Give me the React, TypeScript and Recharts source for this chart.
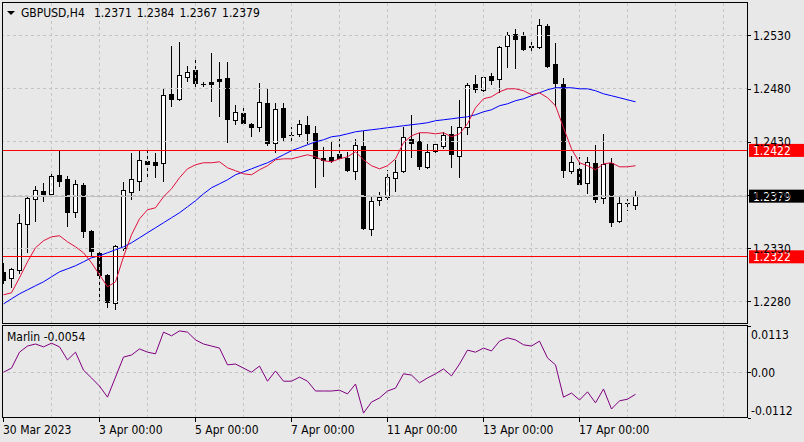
import React from 'react';
import { ComposedChart, Bar, Line, XAxis, YAxis, ReferenceLine } from 'recharts';

const FONT = "'DejaVu Sans Condensed', 'DejaVu Sans', sans-serif";
const BG = '#e8e8e8';

// H4 candles, 30 Mar 2023 00:00 .. 18 Apr 2023 04:00
const opens = [
  1.23079, 1.23023, 1.23098, 1.2353, 1.23765, 1.23841, 1.23812, 1.23991, 1.23953, 1.23643,
  1.23897, 1.23465, 1.23258, 1.23051, 1.22788, 1.23305, 1.23831, 1.23935, 1.24123, 1.24113,
  1.24104, 1.24752, 1.24705, 1.24912, 1.24978, 1.24846, 1.24865, 1.24893, 1.24903, 1.24505,
  1.24571, 1.2447, 1.24442, 1.24668, 1.24292, 1.24621, 1.24367, 1.24376, 1.24461, 1.24386,
  1.24151, 1.2416, 1.24188, 1.24151, 1.24029, 1.24264, 1.23483, 1.23756, 1.23784, 1.23963,
  1.24029, 1.24329, 1.24311, 1.24066, 1.24217, 1.24264, 1.24376, 1.2417, 1.24442, 1.24846,
  1.2479, 1.24922, 1.24893, 1.25204, 1.25316, 1.25298, 1.25199, 1.25194, 1.25392, 1.25034,
  1.24846, 1.24029, 1.24047, 1.23916, 1.24104, 1.23775, 1.24104, 1.23559, 1.2373, 1.2371,
];
const highs = [
  1.23164, 1.23117, 1.23624, 1.23794, 1.23888, 1.23916, 1.2401, 1.24217, 1.23982, 1.23944,
  1.23916, 1.23474, 1.23295, 1.2306, 1.23333, 1.23925, 1.24198, 1.24226, 1.24245, 1.24198,
  1.24799, 1.25204, 1.25241, 1.25016, 1.251, 1.24865, 1.25138, 1.25053, 1.25053, 1.24649,
  1.24618, 1.2448, 1.24856, 1.24809, 1.24668, 1.24668, 1.24442, 1.24508, 1.24546, 1.24452,
  1.24254, 1.24301, 1.24329, 1.24207, 1.24329, 1.24405, 1.23784, 1.23831, 1.24038, 1.24132,
  1.24442, 1.24555, 1.24386, 1.24282, 1.24301, 1.24395, 1.24452, 1.24696, 1.24856, 1.24931,
  1.24931, 1.2495, 1.25204, 1.25335, 1.25363, 1.25335, 1.25269, 1.25457, 1.25407, 1.25232,
  1.24903, 1.2417, 1.2416, 1.2416, 1.24273, 1.24376, 1.24151, 1.23784, 1.23765, 1.2384,
];
const lows = [
  1.22976, 1.22938, 1.2307, 1.23267, 1.23559, 1.23747, 1.23803, 1.23888, 1.23512, 1.23596,
  1.23408, 1.23239, 1.22807, 1.2275, 1.22731, 1.23286, 1.23765, 1.2385, 1.23972, 1.23972,
  1.23935, 1.2464, 1.24696, 1.24875, 1.24818, 1.24828, 1.24687, 1.24546, 1.24301, 1.24468,
  1.24461, 1.24358, 1.24405, 1.24273, 1.24207, 1.2432, 1.2432, 1.24358, 1.24292, 1.23878,
  1.23982, 1.24113, 1.24132, 1.24029, 1.23953, 1.23483, 1.23427, 1.23709, 1.23765, 1.23841,
  1.24019, 1.2416, 1.24047, 1.24057, 1.24198, 1.24245, 1.24066, 1.23972, 1.24376, 1.24771,
  1.24781, 1.24846, 1.24771, 1.25006, 1.24997, 1.25166, 1.25166, 1.25185, 1.25006, 1.2464,
  1.23972, 1.2401, 1.23897, 1.23822, 1.23737, 1.23728, 1.23512, 1.23549, 1.23662, 1.2367,
];
const closes = [
  1.23004, 1.23107, 1.2354, 1.23775, 1.2385, 1.23812, 1.23982, 1.23935, 1.23643, 1.23906,
  1.23465, 1.23277, 1.23051, 1.22797, 1.23324, 1.2385, 1.23953, 1.24132, 1.24094, 1.24085,
  1.24743, 1.24705, 1.24931, 1.24959, 1.24856, 1.24841, 1.24846, 1.24875, 1.24517, 1.2458,
  1.24473, 1.24442, 1.24677, 1.24292, 1.24611, 1.24348, 1.24362, 1.2447, 1.24386, 1.24151,
  1.24132, 1.24132, 1.24151, 1.24038, 1.24273, 1.23493, 1.23747, 1.23784, 1.23972, 1.24019,
  1.24348, 1.24292, 1.24076, 1.24207, 1.24282, 1.24367, 1.24188, 1.24442, 1.24837, 1.24799,
  1.24912, 1.24884, 1.25194, 1.25307, 1.25269, 1.25175, 1.25194, 1.25401, 1.25016, 1.24856,
  1.24038, 1.24113, 1.23906, 1.24113, 1.23765, 1.24094, 1.23549, 1.23728, 1.23725, 1.2379,
];
// red moving average
const maFast = [
  1.22863, 1.22882, 1.23023, 1.23173, 1.23305, 1.23371, 1.23408, 1.23418, 1.23361, 1.23314,
  1.23258, 1.23164, 1.23051, 1.22938, 1.22985, 1.2322, 1.23427, 1.23577, 1.23662, 1.23681,
  1.23784, 1.23859, 1.23963, 1.24047, 1.24085, 1.24104, 1.24104, 1.24113, 1.24057, 1.24029,
  1.24, 1.23991, 1.24038, 1.24076, 1.24132, 1.24141, 1.24141, 1.2416, 1.24179, 1.2416,
  1.24123, 1.24113, 1.24141, 1.2416, 1.24207, 1.24132, 1.24076, 1.24047, 1.24076, 1.24141,
  1.24292, 1.24358, 1.24386, 1.24386, 1.24376, 1.24386, 1.24348, 1.24376, 1.2447, 1.24621,
  1.24705, 1.24724, 1.24771, 1.24799, 1.24799, 1.24781, 1.24743, 1.24762, 1.24715, 1.2464,
  1.24433, 1.24235, 1.24104, 1.24076, 1.24038, 1.24094, 1.24104, 1.24066, 1.24066, 1.24076,
];
// blue moving average
const maSlow = [
  1.22778, 1.22825, 1.22872, 1.2291, 1.22948, 1.22985, 1.23032, 1.23079, 1.23107, 1.23136,
  1.23173, 1.23211, 1.2323, 1.23258, 1.23286, 1.23314, 1.23352, 1.23399, 1.23446, 1.23493,
  1.2354, 1.23587, 1.23634, 1.2369, 1.23747, 1.23812, 1.23869, 1.23906, 1.23944, 1.23991,
  1.24019, 1.24047, 1.24076, 1.24104, 1.24141, 1.24179, 1.24217, 1.24245, 1.24273, 1.24301,
  1.2432, 1.24348, 1.24358, 1.24376, 1.24395, 1.24405, 1.24414, 1.24423, 1.24433, 1.24442,
  1.24452, 1.24461, 1.2447, 1.2448, 1.24499, 1.24508, 1.24517, 1.24527, 1.24536, 1.24555,
  1.24583, 1.24602, 1.2464, 1.24658, 1.24687, 1.24705, 1.24734, 1.24762, 1.2479, 1.24809,
  1.24809, 1.24809, 1.24799, 1.24799, 1.24781, 1.24752, 1.24734, 1.24715, 1.24696, 1.24677,
];
// Marlin oscillator
const marlin = [
  0.0, 0.001, 0.0049, 0.0064, 0.0069, 0.0062, 0.0071, 0.0062, 0.003, 0.0049,
  0.0005, -0.0014, -0.0034, -0.0061, -0.0012, 0.0037, 0.0042, 0.0057, 0.0049, 0.0045,
  0.0098, 0.0089, 0.0101, 0.0098, 0.0079, 0.0069, 0.0064, 0.0059, 0.0018, 0.002,
  0.001, 0.0, 0.0015, -0.0022, 0.0003, -0.0022, -0.0022, -0.0012, -0.0022, -0.0046,
  -0.0046, -0.0046, -0.0044, -0.0053, -0.0029, -0.01, -0.0073, -0.0063, -0.0046, -0.0039,
  -0.0004, -0.0007, -0.0026, -0.0014, -0.0004, 0.0008, -0.0009, 0.002, 0.0054, 0.0049,
  0.0059, 0.0052, 0.0076, 0.0084, 0.0079, 0.0067, 0.0064, 0.0076, 0.0035, 0.0018,
  -0.0061, -0.0051, -0.0068, -0.0048, -0.0075, -0.0041, -0.009, -0.007, -0.0066, -0.0054,
];

const dateTickIndex = [0, 12, 24, 36, 48, 60, 72];
const dateTickLabels = ['30 Mar 2023', '3 Apr 00:00', '5 Apr 00:00', '7 Apr 00:00', '11 Apr 00:00', '13 Apr 00:00', '17 Apr 00:00'];
const dayGridIndex = [6, 12, 18, 24, 30, 36, 42, 48, 54, 60, 66, 72, 78, 84, 90];
const priceTicks = [1.228, 1.233, 1.238, 1.243, 1.248, 1.253];
const levelValues = [1.2422, 1.2322];
const levelLabels = ['1.2422', '1.2322'];
const lastPrice = 1.2379;
const lastPriceLabel = '1.2379';
const marlinTicks = [0.0113, 0, -0.0112];
const marlinTickLabels = ['0.0113', '0.00', '-0.0112'];
const titleSymbol = 'GBPUSD,H4';
const titleOHLC = '1.2371 1.2384 1.2367 1.2379';
const marlinTitle = 'Marlin -0.0054';

const rows = opens.map((o, i) => ({
  i,
  open: o,
  high: highs[i],
  low: lows[i],
  close: closes[i],
  range: [lows[i], highs[i]],
  maFast: maFast[i],
  maSlow: maSlow[i],
  marlin: marlin[i],
}));

const X_DOMAIN: [number, number] = [-0.1875, 93.0625];
const PRICE_DOMAIN: [number, number] = [1.2258853, 1.2561485];
const MARLIN_DOMAIN: [number, number] = [-0.0112, 0.0113];
const GRID = '#c4c4c4';

function Candle(props: any) {
  const { x, y, width, height, payload } = props;
  if (x == null || y == null || !payload) return null;
  const top = Math.min(y, y + height);
  const h = Math.abs(height);
  const { open, high, low, close } = payload;
  const k = high > low ? h / (high - low) : 0;
  const py = (p: number) => top + (high - p) * k;
  const cx = Math.floor(x + width / 2) + 0.5;
  const bull = close > open;
  const bt = Math.round(py(Math.max(open, close))) + 0.5;
  const bb = Math.round(py(Math.min(open, close))) + 0.5;
  const wt = Math.round(py(high));
  const wb = Math.round(py(low)) + 1;
  return (
    <g>
      <line x1={cx} x2={cx} y1={wt} y2={wb} stroke="#000" strokeWidth={1} />
      {bb - bt < 1 ? (
        <line x1={cx - 2.5} x2={cx + 2.5} y1={bt} y2={bt} stroke="#000" strokeWidth={1} />
      ) : (
        <rect x={cx - 2} y={bt} width={4} height={bb - bt} fill={bull ? '#fff' : '#000'} stroke="#000" strokeWidth={1} />
      )}
    </g>
  );
}

function PriceTick(props: any) {
  const { y, payload } = props;
  const yy = Math.round(y) + 0.5;
  return (
    <g>
      <line x1={748} x2={751} y1={yy} y2={yy} stroke="#000" strokeWidth={1} />
      <text x={753} y={y + 4.4} fontSize={12} fontFamily={FONT} fontStretch="condensed" fill="#000">
        {Number(payload.value).toFixed(4)}
      </text>
    </g>
  );
}

function PriceBox(props: any) {
  const { viewBox, text, fill } = props;
  if (!viewBox) return null;
  const right = viewBox.x + viewBox.width;
  const y = viewBox.y;
  return (
    <g>
      <rect x={right + 1} y={y - 6.5} width={56} height={13} fill={fill} />
      <text x={753} y={y + 4.4} fontSize={12} fontFamily={FONT} fontStretch="condensed" fill="#fff">
        {text}
      </text>
    </g>
  );
}

function MarlinTick(props: any) {
  const { y, payload } = props;
  const v = payload.value;
  const idx = marlinTicks.indexOf(v);
  const ty = v === MARLIN_DOMAIN[1] ? y + 9 : v === MARLIN_DOMAIN[0] ? y - 7.3 : y;
  const yy = Math.round(y) + 0.5;
  return (
    <g>
      <line x1={748} x2={751} y1={yy} y2={yy} stroke="#000" strokeWidth={1} />
      <text x={751} y={ty + 4.4} fontSize={12} fontFamily={FONT} fontStretch="condensed" fill="#000">
        {marlinTickLabels[idx]}
      </text>
    </g>
  );
}

function DateTick(props: any) {
  const { x, payload } = props;
  const idx = dateTickIndex.indexOf(payload.value);
  const px = Math.floor(x) + 0.5;
  return (
    <g>
      <line x1={px} x2={px} y1={92} y2={96} stroke="#000" strokeWidth={1} />
      <text x={px - 0.5} y={107.5} fontSize={12} fontFamily={FONT} fontStretch="condensed" fill="#000">
        {dateTickLabels[idx]}
      </text>
    </g>
  );
}

export default function App() {
  return (
    <div style={{ position: 'fixed', left: 0, top: 0, width: 804, height: 442, background: BG, overflow: 'hidden' }}>
      <div style={{ position: 'absolute', left: 0, top: 0 }}>
        <ComposedChart width={804} height={326} data={rows} margin={{ top: 2, right: 0, bottom: 2, left: 2 }}>
          <XAxis dataKey="i" type="number" domain={X_DOMAIN} allowDataOverflow hide />
          <YAxis
            orientation="right"
            type="number"
            domain={PRICE_DOMAIN}
            allowDataOverflow
            ticks={priceTicks}
            tick={PriceTick}
            tickLine={false}
            axisLine={false}
            width={56}
            interval={0}
          />
          {dayGridIndex.map((d) => (
            <ReferenceLine key={'vx' + d} x={d} stroke={GRID} strokeDasharray="3 3" />
          ))}
          {priceTicks.map((p) => (
            <ReferenceLine key={'hy' + p} y={p} stroke={GRID} strokeDasharray="3 3" shapeRendering="crispEdges" />
          ))}
          <ReferenceLine y={lastPrice} stroke="#c0c0c0" shapeRendering="crispEdges" />
          <Bar dataKey="range" barSize={5} shape={Candle} isAnimationActive={false} />
          <Line dataKey="maSlow" type="linear" stroke="#0000ff" strokeWidth={1} dot={false} activeDot={false} isAnimationActive={false} />
          <Line dataKey="maFast" type="linear" stroke="#e0103c" strokeWidth={1} dot={false} activeDot={false} isAnimationActive={false} />
          {levelValues.map((v, k) => (
            <ReferenceLine
              key={'lv' + v}
              y={v}
              stroke="#ff0000"
              strokeWidth={1}
              shapeRendering="crispEdges"
              label={<PriceBox text={levelLabels[k]} fill="#ff0000" />}
            />
          ))}
          <ReferenceLine y={lastPrice} stroke="none" label={<PriceBox text={lastPriceLabel} fill="#000000" />} />
        </ComposedChart>
      </div>
      <div style={{ position: 'absolute', left: 0, top: 326 }}>
        <ComposedChart width={804} height={116} data={rows} margin={{ top: 0, right: 0, bottom: 0, left: 2 }}>
          <XAxis
            dataKey="i"
            type="number"
            domain={X_DOMAIN}
            allowDataOverflow
            ticks={dateTickIndex}
            tick={DateTick}
            tickLine={false}
            axisLine={false}
            height={24}
            interval={0}
          />
          <YAxis
            orientation="right"
            type="number"
            domain={MARLIN_DOMAIN}
            allowDataOverflow
            ticks={marlinTicks}
            tick={MarlinTick}
            tickLine={false}
            axisLine={false}
            width={56}
            interval={0}
          />
          {dayGridIndex.map((d) => (
            <ReferenceLine key={'mvx' + d} x={d} stroke={GRID} strokeDasharray="3 3" />
          ))}
          <ReferenceLine y={0} stroke={GRID} strokeDasharray="3 3" shapeRendering="crispEdges" />
          <Line dataKey="marlin" type="linear" stroke="#800080" strokeWidth={1} dot={false} activeDot={false} isAnimationActive={false} />
        </ComposedChart>
      </div>
      <svg width={804} height={442} style={{ position: 'absolute', left: 0, top: 0, pointerEvents: 'none' }}>
        <rect x={2.5} y={2.5} width={745} height={321} fill="none" stroke="#000" strokeWidth={1} />
        <rect x={2.5} y={325.5} width={745} height={92} fill="none" stroke="#000" strokeWidth={1} />
        <polygon points="7,11 15,11 11,15" fill="#000" />
        <text x={21} y={17} fontSize={12} fontFamily={FONT} fontStretch="condensed" fill="#000">
          {titleSymbol}
        </text>
        <text x={94} y={17} fontSize={12} fontFamily={FONT} fontStretch="condensed" wordSpacing={1.5} fill="#000">
          {titleOHLC}
        </text>
        <text x={7} y={341} fontSize={12} fontFamily={FONT} fontStretch="condensed" fill="#000">
          {marlinTitle}
        </text>
      </svg>
    </div>
  );
}
